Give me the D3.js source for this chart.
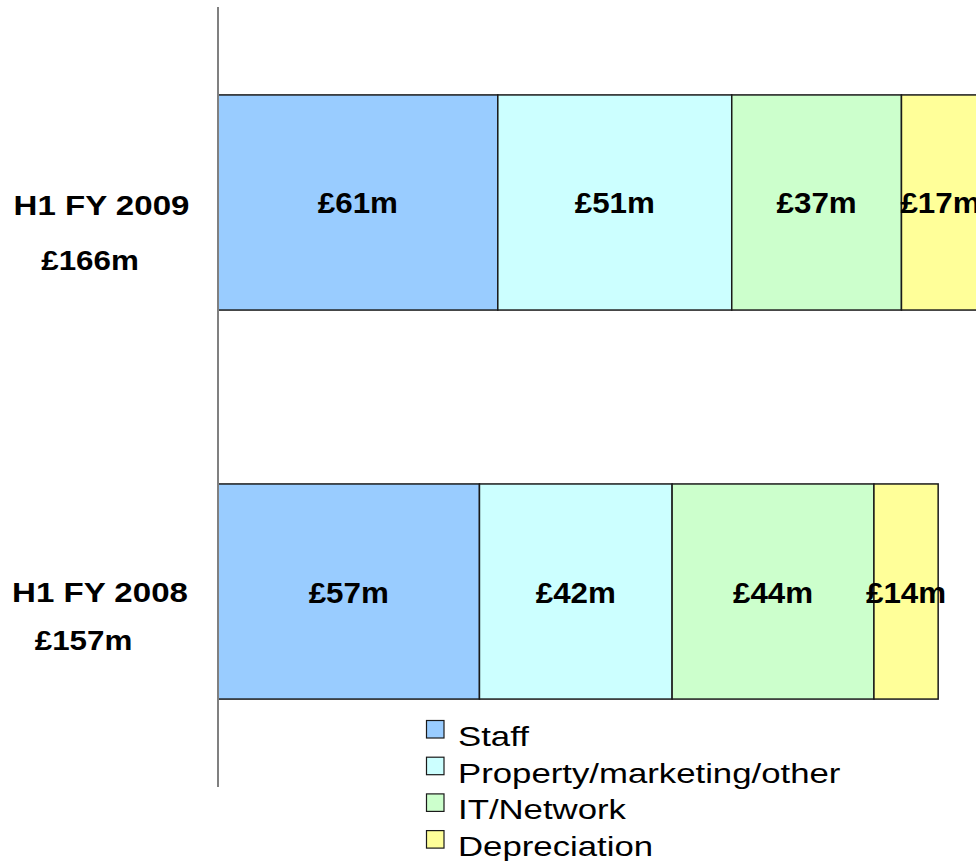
<!DOCTYPE html>
<html>
<head>
<meta charset="utf-8">
<script src="https://cdn.jsdelivr.net/npm/d3@7"></script>
<style>
  body { margin: 0; background: #fff; }
  svg { display: block; font-family: "Liberation Sans", Arial, sans-serif; }
</style>
</head>
<body>
<svg id="chart" width="976" height="861"></svg>
<script>
// periods, top to bottom
var periods = ["H1 FY 2009", "H1 FY 2008"];
var totals = ["£166m", "£157m"];
// cost categories, in stacking order
var categories = ["Staff", "Property/marketing/other", "IT/Network", "Depreciation"];
var colors = ["#99ccff", "#ccffff", "#ccffcc", "#ffff99"];
// £m per category for each period
var fy2009 = [61, 51, 37, 17];
var fy2008 = [57, 42, 44, 14];

(function () {
    var svg = d3.select("#chart");
    var values = [fy2009, fy2008];

    var x = d3.scaleLinear().domain([0, 200]).range([218, 218 + 200 * 4.587]);
    var y = d3.scaleBand().domain(periods).range([7, 787])
        .paddingInner(0.447).paddingOuter(0.226);

    // rows of stacked segments
    var rows = periods.map(function (p, i) {
        var acc = 0;
        return values[i].map(function (v, j) {
            var seg = {period: p, cat: j, v: v, x0: acc, x1: acc + v};
            acc += v;
            return seg;
        });
    });

    svg.append("g").selectAll("rect")
        .data(rows.flat()).join("rect")
        .attr("x", d => x(d.x0))
        .attr("width", d => x(d.x1) - x(d.x0))
        .attr("y", d => y(d.period))
        .attr("height", y.bandwidth())
        .attr("fill", d => colors[d.cat])
        .attr("stroke", "#1a1a1a")
        .attr("stroke-width", 1.5);

    // value labels
    svg.append("g").selectAll("text")
        .data(rows.flat()).join("text")
        .attr("transform", d => "translate(" + ((x(d.x0) + x(d.x1)) / 2) + "," +
              (y(d.period) + y.bandwidth() / 2 + 11) + ") scale(1.08,1)")
        .attr("text-anchor", "middle")
        .style("font-size", "29px").style("font-weight", "bold")
        .text(d => "£" + d.v + "m");

    // axis line
    svg.append("line")
        .attr("x1", x(0)).attr("x2", x(0))
        .attr("y1", y.range()[0]).attr("y2", y.range()[1])
        .attr("stroke", "#808080").attr("stroke-width", 2);

    // category labels and totals
    var lab = svg.append("g").selectAll("g")
        .data(periods).join("g")
        .attr("transform", d => "translate(0," + (y(d) + y.bandwidth() / 2) + ")");
    lab.append("text")
        .attr("transform", (d, i) => "translate(" + (i ? 100 : 101.5) + "," + (i ? 10.5 : 12.5) + ") scale(1.16,1)")
        .attr("text-anchor", "middle")
        .style("font-size", "28.5px").style("font-weight", "bold")
        .text(d => d);
    lab.append("text")
        .attr("transform", (d, i) => "translate(" + (i ? 83.5 : 90) + "," + (i ? 58.5 : 67.5) + ") scale(1.1,1)")
        .attr("text-anchor", "middle")
        .style("font-size", "28.5px").style("font-weight", "bold")
        .text((d, i) => totals[i]);

    // legend
    var leg = svg.append("g").selectAll("g")
        .data(categories).join("g")
        .attr("transform", (d, i) => "translate(426," + (746 + i * 36.7) + ")");
    leg.append("rect")
        .attr("x", 0.5).attr("y", -25.5).attr("width", 17.5).attr("height", 17.5)
        .attr("fill", (d, i) => colors[i])
        .attr("stroke", "#1a1a1a").attr("stroke-width", 1.2);
    leg.append("text")
        .attr("transform", "translate(32,0) scale(1.22,1)")
        .style("font-size", "28.5px")
        .text(d => d);
})();
</script>
</body>
</html>
